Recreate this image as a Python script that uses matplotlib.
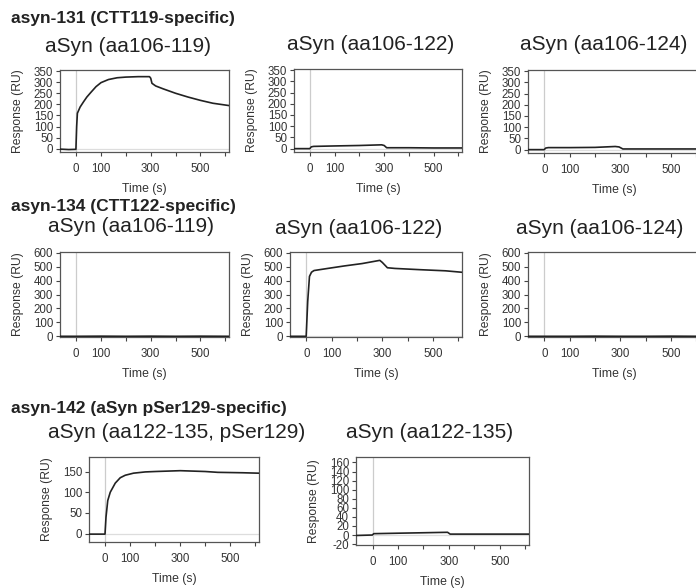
import matplotlib
matplotlib.use("Agg")
import matplotlib.pyplot as plt
from matplotlib.ticker import MultipleLocator, FixedLocator

plt.rcParams["font.family"] = ["Liberation Sans", "DejaVu Sans"]
plt.rcParams["axes.unicode_minus"] = False

W, H = 696, 588

# sensorgram traces (time in s, response in RU)
t_131_119 = [-65, -30, -1, 2, 5, 16, 30, 43, 60, 80, 100, 130, 165, 200, 250, 295, 300, 305, 320, 350, 400, 450, 500, 550, 612]
r_131_119 = [-2, -4, -3, 100, 160, 188, 212, 233, 255, 280, 298, 312, 320, 323, 325, 325, 318, 295, 283, 270, 250, 233, 218, 205, 195]

t_131_122 = [-65, -1, 5, 15, 100, 200, 290, 300, 310, 400, 500, 612]
r_131_122 = [0, 0, 8, 10, 12, 14, 17, 14, 4, 4, 3, 3]

t_131_124 = [-65, -1, 5, 15, 100, 200, 280, 295, 310, 400, 500, 612]
r_131_124 = [0, 0, 7, 9, 9, 10, 14, 12, 3, 3, 3, 3]

t_134_119 = [-65, 0, 100, 200, 300, 400, 500, 612]
r_134_119 = [0, 0, 1, 0, 1, 0, 1, 0]

t_134_122 = [-65, -1, 5, 12, 20, 30, 84, 150, 220, 290, 300, 320, 350, 450, 550, 612]
r_134_122 = [0, 0, 250, 430, 460, 472, 487, 505, 522, 545, 530, 492, 487, 478, 470, 460]

t_134_124 = [-65, 0, 100, 200, 300, 400, 500, 612]
r_134_124 = [0, 0, 0, 1, 0, 0, 1, 0]

t_142_p129 = [-65, -1, 3, 10, 20, 40, 60, 80, 113, 160, 200, 300, 400, 450, 550, 612]
r_142_p129 = [-1, -1, 40, 80, 100, 122, 135, 141, 146, 149, 150, 152, 150, 148, 147, 146]

t_142_135 = [-65, -1, 5, 100, 200, 295, 305, 400, 500, 612]
r_142_135 = [-1, 0, 3, 4, 5, 6, 2, 2, 2, 2]

headers = ["asyn-131 (CTT119-specific)", "asyn-134 (CTT122-specific)", "asyn-142 (aSyn pSer129-specific)"]
header_y = [18, 207, 408]

# (trace, title, title centre px, axes box px (l, t, r, b), ylim, ytick step)
panels = [
    (t_131_119, r_131_119, "aSyn (aa106-119)", (128, 46), (60, 70, 229, 152), (-15, 355), 50),
    (t_131_122, r_131_122, "aSyn (aa106-122)", (371, 44), (294, 69, 462, 152), (-15, 355), 50),
    (t_131_124, r_131_124, "aSyn (aa106-124)", (604, 45), (528, 70, 700, 153), (-15, 355), 50),
    (t_134_119, r_134_119, "aSyn (aa106-119)", (131, 227), (60, 252, 229, 337), (-5, 605), 100),
    (t_134_122, r_134_122, "aSyn (aa106-122)", (359, 228), (290, 252, 462, 337), (-5, 605), 100),
    (t_134_124, r_134_124, "aSyn (aa106-124)", (600, 228), (528, 252, 700, 337), (-5, 605), 100),
    (t_142_p129, r_142_p129, "aSyn (aa122-135, pSer129)", (177, 433), (89, 457, 259, 542), (-20, 185), 50),
    (t_142_135, r_142_135, "aSyn (aa122-135)", (430, 432), (356, 457, 529, 545), (-22, 172), 20),
]

fig = plt.figure(figsize=(W / 100, H / 100), dpi=100)

for text, y in zip(headers, header_y):
    fig.text(11 / W, 1 - y / H, text, fontsize=12.5, fontweight="bold",
             color="#222222", ha="left", va="center")

for t, r, title, (cx, cy), (l, tp, rt, b), ylim, ystep in panels:
    ax = fig.add_axes([l / W, 1 - b / H, (rt - l) / W, (b - tp) / H])
    ax.axvline(0, color="#cccccc", lw=0.9, zorder=1)
    ax.axhline(0, color="#dddddd", lw=0.9, zorder=1)
    ax.plot(t, r, color="#222222", lw=1.2, zorder=3)
    ax.set_xlim(-65, 615)
    ax.set_ylim(*ylim)
    ax.xaxis.set_major_locator(FixedLocator([0, 100, 300, 500]))
    ax.xaxis.set_minor_locator(FixedLocator([200, 400, 600]))
    ax.yaxis.set_major_locator(MultipleLocator(ystep))
    ax.tick_params(which="both", direction="out", length=3, width=0.8,
                   labelsize=8.3, colors="#444444", pad=2)
    ax.tick_params(axis="y", which="both", labelcolor="#333333")
    ax.tick_params(axis="x", pad=5, labelcolor="#333333")
    for s in ax.spines.values():
        s.set_color("#555555")
        s.set_linewidth(0.9)
    ax.set_xlabel("Time (s)", fontsize=8.8, color="#333333", labelpad=6)
    ax.set_ylabel("Response (RU)", fontsize=8.7, color="#333333", labelpad=7)
    fig.text(cx / W, 1 - cy / H, title, fontsize=15, color="#222222",
             ha="center", va="center")

fig.savefig("out.png", dpi=100)
